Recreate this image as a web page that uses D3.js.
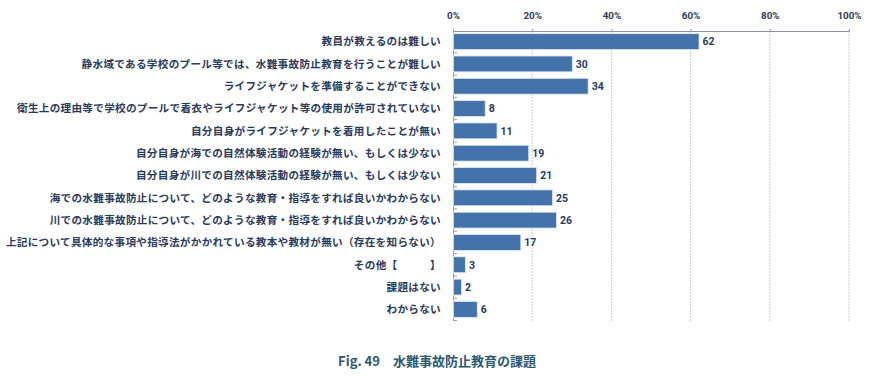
<!DOCTYPE html>
<html><head><meta charset="utf-8">
<script src="https://cdn.jsdelivr.net/npm/d3@7"></script>
<style>
body{margin:0;background:#fff;}
svg{display:block;}
</style></head>
<body>
<svg id="chart" width="873" height="379"></svg>
<script>
const categories = [
  "教員が教えるのは難しい",
  "静水域である学校のプール等では、水難事故防止教育を行うことが難しい",
  "ライフジャケットを準備することができない",
  "衛生上の理由等で学校のプールで着衣やライフジャケット等の使用が許可されていない",
  "自分自身がライフジャケットを着用したことが無い",
  "自分自身が海での自然体験活動の経験が無い、もしくは少ない",
  "自分自身が川での自然体験活動の経験が無い、もしくは少ない",
  "海での水難事故防止について、どのような教育・指導をすれば良いかわからない",
  "川での水難事故防止について、どのような教育・指導をすれば良いかわからない",
  "上記について具体的な事項や指導法がかかれている教本や教材が無い（存在を知らない）",
  "その他【　　　】",
  "課題はない",
  "わからない"
];
const values = [62, 30, 34, 8, 11, 19, 21, 25, 26, 17, 3, 2, 6];
const tickValues = [0, 20, 40, 60, 80, 100];
const title = "Fig. 49　水難事故防止教育の課題";

const svg = d3.select("#chart");
const x = d3.scaleLinear().domain([0, 100]).range([453, 849]);
const y = d3.scaleBand().domain(categories).range([31, 320]).paddingInner(0.29).paddingOuter(0.12);

const navy = "#2b3a5c";
const jp = "'Noto Sans CJK JP','Noto Sans',sans-serif";
const num = "Roboto,'DejaVu Sans',sans-serif";

// gridlines
svg.append("g").selectAll("line").data(tickValues.slice(1)).join("line")
  .attr("x1", d => x(d)).attr("x2", d => x(d))
  .attr("y1", 31).attr("y2", 321)
  .attr("stroke", "#c9ccd2").attr("stroke-width", 1).attr("stroke-dasharray", "2,1");

// top axis
const topAxis = svg.append("g").attr("transform", "translate(0,31)")
  .call(d3.axisTop(x).tickValues(tickValues).tickSize(2).tickFormat(d => d + "%"));
topAxis.select(".domain").attr("stroke", "#8c93a6");
topAxis.selectAll(".tick line").attr("stroke", "#8c93a6");
topAxis.selectAll(".tick text").attr("y", -12)
  .attr("font-family", num).attr("font-weight", 700).attr("font-size", 9.8)
  .attr("fill", navy);

// left axis line
svg.append("line").attr("x1", 453.5).attr("x2", 453.5).attr("y1", 31).attr("y2", 321)
  .attr("stroke", "#9aa0ae").attr("stroke-width", 1);

// small boundary ticks
const gap = (y.step() - y.bandwidth()) / 2;
svg.append("g").selectAll("line").data(categories).join("line")
  .attr("x1", 453).attr("x2", 457)
  .attr("y1", d => y(d) + y.bandwidth() + gap).attr("y2", d => y(d) + y.bandwidth() + gap)
  .attr("stroke", "#9aa0ae").attr("stroke-width", 1);

// bars
svg.append("g").selectAll("rect").data(values).join("rect")
  .attr("x", x(0) + 0.5)
  .attr("y", (d, i) => y(categories[i]))
  .attr("width", d => x(d) - x(0))
  .attr("height", y.bandwidth())
  .attr("fill", "#4473ab")
  .attr("stroke", "#dfe7f2").attr("stroke-width", 0.8);

// value labels
svg.append("g").selectAll("text").data(values).join("text")
  .attr("x", d => x(d) + 4)
  .attr("y", (d, i) => y(categories[i]) + y.bandwidth() / 2)
  .attr("dy", "0.36em")
  .attr("font-family", num).attr("font-weight", 700).attr("font-size", 10.5)
  .attr("fill", navy)
  .text(d => d);

// category labels
svg.append("g").selectAll("text").data(categories).join("text")
  .attr("x", 441)
  .attr("y", d => y(d) + y.bandwidth() / 2)
  .attr("dy", "0.36em")
  .attr("text-anchor", "end")
  .attr("font-family", jp).attr("font-weight", 700).attr("font-size", 10.6)
  .attr("letter-spacing", 0.3)
  .attr("fill", navy)
  .text(d => d);

// title
svg.append("text").attr("x", 437).attr("y", 366)
  .attr("text-anchor", "middle")
  .attr("font-family", jp).attr("font-weight", 700)
  .attr("font-size", 13).attr("fill", "#2d5a73")
  .text(title);
</script>
</body></html>
